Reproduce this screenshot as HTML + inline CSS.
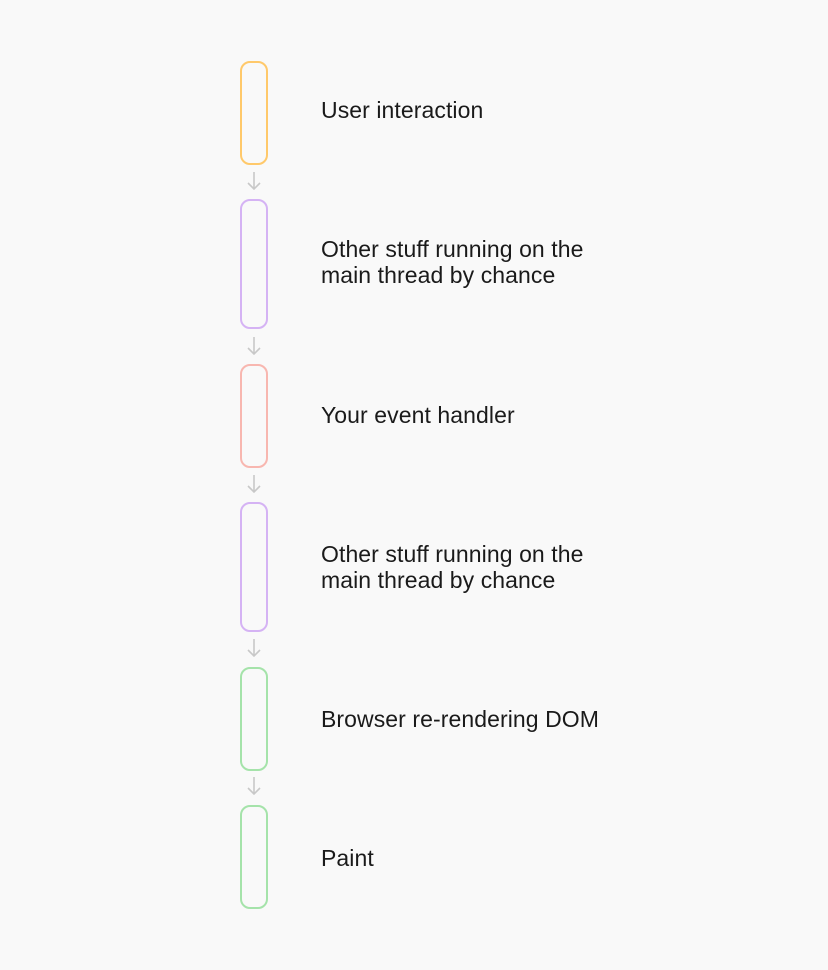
<!DOCTYPE html>
<html><head><meta charset="utf-8"><style>
html,body{margin:0;padding:0;background:#f9f9f9;}
body{width:828px;height:970px;position:relative;overflow:hidden;font-family:"Liberation Sans",sans-serif;}
.b{position:absolute;left:240px;width:24px;border:2px solid;border-radius:10px;}
.t{position:absolute;left:321px;font-size:23px;line-height:26px;color:#1a1a1a;white-space:nowrap;letter-spacing:0.08px;}
</style></head><body>
<div class="b" style="top:61px;height:100px;border-color:#ffc96b"></div>
<div class="b" style="top:199px;height:126px;border-color:#d5b3f4"></div>
<div class="b" style="top:364px;height:100px;border-color:#f8b7b0"></div>
<div class="b" style="top:502px;height:126px;border-color:#d5b3f4"></div>
<div class="b" style="top:667px;height:100px;border-color:#a5e3aa"></div>
<div class="b" style="top:805px;height:100px;border-color:#a5e3aa"></div>
<svg width="828" height="970" style="position:absolute;left:0;top:0" fill="none" stroke="#c8c8c8" stroke-width="1.6">
<g id="a"><path d="M254 172V189M248 183L254 189L260 183"/></g>
<use href="#a" y="165"/>
<use href="#a" y="303"/>
<use href="#a" y="467"/>
<use href="#a" y="605"/>
</svg>
<div class="t" style="top:97px">User interaction</div>
<div class="t" style="top:236px">Other stuff running on the<br>main thread by chance</div>
<div class="t" style="top:402px">Your event handler</div>
<div class="t" style="top:541px">Other stuff running on the<br>main thread by chance</div>
<div class="t" style="top:706px">Browser re-rendering DOM</div>
<div class="t" style="top:845px">Paint</div>
</body></html>
